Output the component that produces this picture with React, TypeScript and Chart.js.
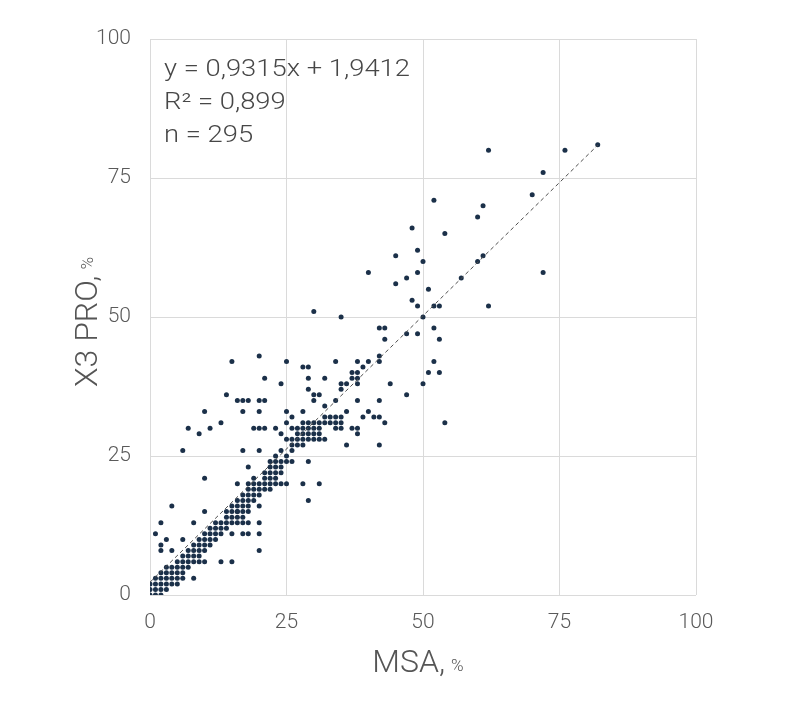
import React, { useEffect, useRef } from "react";
import { Chart, registerables } from "chart.js";

Chart.register(...registerables);

// MSA (%) values — x axis
const msaValues = [
  0, 0, 0, 1, 1, 1, 2, 2, 2, 2,
  3, 3, 3, 3, 4, 4, 4, 4, 5, 5,
  5, 5, 6, 6, 6, 6, 7, 7, 7, 7,
  8, 8, 8, 8, 9, 9, 9, 9, 10, 10,
  10, 10, 11, 11, 11, 11, 12, 12, 12, 12,
  13, 13, 13, 14, 14, 14, 1, 3, 5, 6,
  2,
  2, 8, 1, 3, 6, 2, 2, 4, 9, 10,
  13, 15, 8, 4, 10, 10, 6, 7, 9, 11,
  13, 10, 14, 15, 20, 25, 21, 24, 16, 17,
  18, 20, 21, 17, 20, 25, 19, 20, 21, 23,
  24, 25, 17, 20, 16, 18, 20, 16, 17, 18,
  20, 15, 17, 18, 20, 16, 17, 15,
  14, 15, 15, 15, 16, 16, 16, 16, 17, 17,
  17, 17, 18, 18, 18, 18, 18, 18, 19, 19,
  19, 19, 20, 20, 20, 20, 21, 21, 21, 21,
  22, 22, 22, 22, 22, 22, 23, 23, 23, 23,
  23, 23, 24, 24, 24, 24, 25, 25, 25, 26,
  26, 26, 26, 27, 27, 27, 28, 28, 28, 28,
  28, 29, 29, 29, 29, 29, 29, 30, 30, 30,
  31, 31, 31, 32, 36,
  28, 29, 29, 32, 34, 38, 40, 42, 42, 37,
  38, 37, 38, 38, 29, 35, 35, 30, 31, 30,
  44, 50, 52, 51, 53, 47, 54, 34, 38, 42,
  40, 39, 41, 42, 43, 32, 26, 28, 32, 33,
  33, 35, 35, 35, 37, 38, 38, 27, 28, 30,
  31, 26, 34, 34, 34, 42, 32, 31, 25, 36,
  39, 36, 24, 19,
  30, 35, 42, 43, 43, 47, 49, 50, 52, 53,
  40, 49, 72, 47, 57, 45, 51, 48, 49, 52,
  53, 62, 45, 49, 50, 61, 60, 54, 48, 60,
  61, 52, 70, 72, 62, 76, 82,
];

// X3 PRO (%) values — y axis
const x3ProValues = [
  0, 1, 2, 1, 2, 3, 1, 2, 3, 4,
  2, 3, 4, 5, 2, 3, 4, 5, 3, 4,
  5, 6, 4, 5, 6, 7, 5, 6, 7, 8,
  6, 7, 8, 9, 7, 8, 9, 10, 8, 9,
  10, 11, 9, 10, 11, 12, 10, 11, 12, 13,
  11, 12, 13, 12, 13, 14, 0, 1, 2, 3,
  0,
  13, 13, 11, 10, 10, 9, 8, 8, 6, 6,
  6, 6, 3, 16, 15, 21, 26, 30, 29, 30,
  31, 33, 36, 42, 43, 42, 39, 38, 35, 35,
  35, 35, 35, 33, 33, 33, 30, 30, 30, 30,
  29, 28, 26, 26, 20, 23, 8, 13, 13, 13,
  13, 11, 11, 11, 11, 15, 14, 14,
  15, 13, 15, 16, 14, 15, 16, 17, 15, 16,
  17, 18, 15, 16, 17, 18, 19, 20, 17, 18,
  19, 20, 16, 18, 19, 20, 19, 20, 21, 22,
  19, 20, 21, 22, 23, 24, 20, 21, 22, 23,
  24, 25, 20, 22, 23, 24, 20, 24, 25, 24,
  26, 27, 28, 27, 28, 29, 20, 27, 28, 29,
  30, 17, 24, 28, 29, 30, 31, 29, 30, 31,
  20, 29, 30, 28, 27,
  41, 41, 39, 39, 42, 42, 42, 42, 43, 40,
  40, 39, 39, 38, 37, 38, 37, 36, 36, 35,
  38, 38, 42, 40, 40, 36, 31, 35, 35, 35,
  33, 32, 32, 32, 31, 34, 32, 33, 31, 32,
  31, 32, 31, 30, 30, 30, 29, 30, 31, 28,
  28, 30, 30, 31, 32, 27, 32, 31, 31, 33,
  41, 38, 26, 21,
  51, 50, 48, 48, 46, 47, 47, 50, 48, 46,
  58, 58, 58, 57, 57, 56, 55, 53, 52, 52,
  52, 52, 61, 62, 60, 61, 60, 65, 66, 68,
  70, 71, 72, 76, 80, 80, 81,
];

// Trend line as drawn in the picture
const trendX = [0, 82];
const trendY = [2.3, 80.9];

const axisTicks = [0, 25, 50, 75, 100];
const equationLines = ["y = 0,9315x + 1,9412", "R² = 0,899", "n = 295"];
const xTitleMain = "MSA,";
const yTitleMain = "X3 PRO,";
const titleUnit = "%";

const textPlugin = {
  id: "textOverlay",
  afterDraw(chart: any) {
    const ctx = chart.ctx as CanvasRenderingContext2D;
    const a = chart.chartArea;
    ctx.save();
    // Equation box text
    ctx.fillStyle = "#474747";
    ctx.font = "300 23px Roboto";
    ctx.textBaseline = "alphabetic";
    ctx.textAlign = "left";
    equationLines.forEach((t, i) => {
      ctx.save();
      ctx.translate(a.left + 14, a.top + 37 + i * 33);
      ctx.scale(1.19, 1);
      ctx.fillText(t, 0, 0);
      ctx.restore();
    });

    ctx.fillStyle = "#555555";
    // X axis title
    const bigFont = "300 32px Roboto";
    const smallFont = "300 17px Roboto";
    ctx.font = bigFont;
    const wMain = ctx.measureText(xTitleMain).width;
    ctx.font = smallFont;
    const wUnit = ctx.measureText(titleUnit).width;
    const gap = 6;
    const total = wMain + gap + wUnit;
    const cx = (a.left + a.right) / 2 - 5;
    const baseY = a.bottom + 77;
    ctx.font = bigFont;
    ctx.fillText(xTitleMain, cx - total / 2, baseY);
    ctx.font = smallFont;
    ctx.fillText(titleUnit, cx - total / 2 + wMain + gap, baseY - 1);

    // Y axis title (rotated)
    ctx.font = bigFont;
    const yMainW = ctx.measureText(yTitleMain).width;
    const yTotal = yMainW + gap + wUnit;
    const cy = 322;
    ctx.save();
    ctx.translate(97, cy + yTotal / 2);
    ctx.rotate(-Math.PI / 2);
    ctx.font = bigFont;
    ctx.fillText(yTitleMain, 0, 0);
    ctx.font = smallFont;
    ctx.fillText(titleUnit, yMainW + gap, -4);
    ctx.restore();

    ctx.restore();
  },
};

export default function App() {
  const canvasRef = useRef<HTMLCanvasElement | null>(null);

  useEffect(() => {
    if (!canvasRef.current) return;
    const points = msaValues.map((x, i) => ({ x, y: x3ProValues[i] }));
    const trend = trendX.map((x, i) => ({ x, y: trendY[i] }));
    const tickFont = { family: "Roboto", size: 21, weight: "300" as any };

    const chart = new Chart(canvasRef.current, {
      type: "scatter",
      data: {
        datasets: [
          {
            data: points,
            pointRadius: 2.5,
            pointBackgroundColor: "#1b3049",
            pointBorderColor: "#1b3049",
            pointBorderWidth: 0,
            showLine: false,
            order: 2,
          },
          {
            type: "line",
            data: trend,
            borderColor: "#4d4d4d",
            borderWidth: 1,
            borderDash: [4, 3],
            pointRadius: 0,
            fill: false,
            order: 1,
          } as any,
        ],
      },
      options: {
        animation: false,
        responsive: true,
        maintainAspectRatio: false,
        layout: { padding: { top: 39, right: 104, left: 0, bottom: 0 } },
        plugins: {
          legend: { display: false },
          tooltip: { enabled: false },
        },
        scales: {
          x: {
            type: "linear",
            min: 0,
            max: 100,
            afterBuildTicks: (s: any) => {
              s.ticks = axisTicks.map((v) => ({ value: v }));
            },
            afterFit: (s: any) => {
              s.height = 116;
            },
            ticks: {
              font: tickFont,
              color: "#5a5a5a",
              padding: 15,
              maxRotation: 0,
            },
            grid: { color: "#dadada", lineWidth: 1, drawTicks: false },
            border: { display: false },
          },
          y: {
            type: "linear",
            min: 0,
            max: 100,
            afterBuildTicks: (s: any) => {
              s.ticks = axisTicks.map((v) => ({ value: v }));
            },
            afterFit: (s: any) => {
              s.width = 150;
            },
            ticks: {
              font: tickFont,
              color: "#5a5a5a",
              padding: 19,
            },
            grid: { color: "#dadada", lineWidth: 1, drawTicks: false },
            border: { display: false },
          },
        },
      },
      plugins: [textPlugin],
    });
    return () => chart.destroy();
  }, []);

  return (
    <div
      style={{
        position: "fixed",
        left: 0,
        top: 0,
        width: 800,
        height: 711,
        background: "#ffffff",
      }}
    >
      <canvas ref={canvasRef} />
    </div>
  );
}
